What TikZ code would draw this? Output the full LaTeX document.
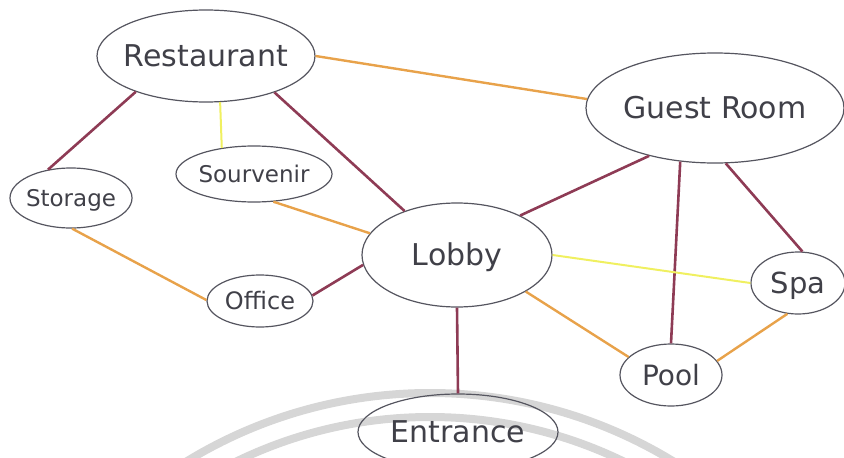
\documentclass[tikz,border=0pt]{standalone}
\usepackage{fontspec}
\setmainfont{DejaVu Sans}
\usetikzlibrary{shapes.geometric}
\definecolor{maroonln}{HTML}{8E3B55}
\definecolor{orangeln}{HTML}{E8A24A}
\definecolor{yellowln}{HTML}{F0F060}
\definecolor{ringln}{HTML}{55555F}
\definecolor{txt}{HTML}{404048}
\definecolor{wmark}{HTML}{D6D6D6}
\newcommand\ctxt[1]{\smash{\makebox[0pt]{\raisebox{-0.36em}{#1}}}}
\tikzset{
  place/.style={ellipse, draw=ringln, line width=1.2pt, inner sep=0pt, text=txt},
  mline/.style={draw=maroonln, line width=2.6pt},
  oline/.style={draw=orangeln, line width=2.4pt},
  yline/.style={draw=yellowln, line width=2pt},
  wm/.style={draw=wmark, line width=8pt},
}
\begin{document}
\begin{tikzpicture}[x=1pt,y=-1pt]
\useasboundingbox (0,0) rectangle (844,458);
% watermark arcs
\begin{scope}
\clip (0,0) rectangle (844,458);
\draw[wm] (430,860) circle (467pt);
\draw[wm] (430,860) circle (443pt);
\end{scope}
% nodes
\node[place, minimum width=218pt, minimum height=92pt, font=\fontsize{30}{30}\selectfont] (R) at (206,56) {\ctxt{Restaurant}};
\node[place, minimum width=258pt, minimum height=110pt, font=\fontsize{30}{30}\selectfont] (G) at (715,108) {\ctxt{Guest Room}};
\node[place, minimum width=156pt, minimum height=56pt, font=\fontsize{23}{23}\selectfont] (So) at (254,174) {\ctxt{Sourvenir}};
\node[place, minimum width=122pt, minimum height=60pt, font=\fontsize{23}{23}\selectfont] (St) at (71,198) {\ctxt{Storage}};
\node[place, minimum width=190pt, minimum height=104pt, font=\fontsize{30}{30}\selectfont] (L) at (457,255) {\ctxt{Lobby}};
\node[place, minimum width=106pt, minimum height=52pt, font=\fontsize{24}{24}\selectfont] (O) at (260,301) {\ctxt{Office}};
\node[place, minimum width=94pt, minimum height=62pt, font=\fontsize{29}{29}\selectfont] (Sp) at (798,283) {\ctxt{Spa}};
\node[place, minimum width=102pt, minimum height=62pt, font=\fontsize{28}{28}\selectfont] (P) at (671,375) {\ctxt{Pool}};
\node[place, minimum width=200pt, minimum height=76pt, font=\fontsize{30}{30}\selectfont] (E) at (458,432) {\ctxt{Entrance}};
% connectors
\draw[oline] (R.-0.5) -- (G.176.5);
\draw[mline] (R.207.5) -- (St.129.4);
\draw[yline] (R.-73) -- (So.141.5);
\draw[mline] (R.-28.2) -- (L.140);
\draw[oline] (So.-55.8) -- (L.166.5);
\draw[oline] (St.-88) -- (O.179);
\draw[mline] (O.6) -- (L.186);
\draw[mline] (G.216.4) -- (L.32.4);
\draw[mline] (G.237) -- (P.90);
\draw[mline] (G.-79) -- (Sp.82.6);
\draw[yline] (L.-0.6) -- (Sp.180);
\draw[oline] (L.-28.6) -- (P.157.8);
\draw[oline] (P.17.7) -- (Sp.251.6);
\draw[mline] (L.-90) -- (E.90);
\end{tikzpicture}
\end{document}
